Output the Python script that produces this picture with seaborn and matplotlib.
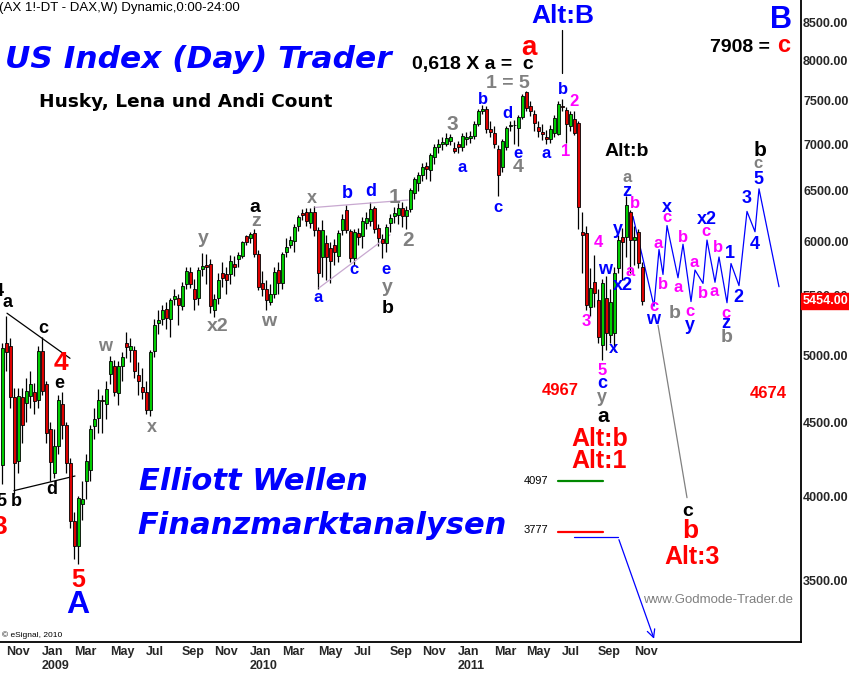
import numpy as np
import pandas as pd
import matplotlib
matplotlib.use("Agg")
import matplotlib.pyplot as plt
import matplotlib.ticker as mticker
import matplotlib.transforms as mtransforms
import seaborn as sns

# ---------------- data (weekly FDAX candles, week 0 = 2008-10-27) ----------------
week_start = "2008-10-27"
opens = [4200, 5100, 5080, 4680, 4230, 4680, 4640, 4690, 4720, 4660, 5040, 4780, 4450, 4150, 4330, 4630,
         4480, 4215, 3843, 3695, 3950, 4100, 4170, 4470, 4530, 4660, 4630, 4860, 4920, 4710, 4920, 5100,
         5050, 5050, 4850, 4760, 4720, 4590, 5040, 5270, 5300, 5390, 5300, 5470, 5480, 5410, 5600, 5710,
         5560, 5480, 5740, 5780, 5790, 5380, 5480, 5700, 5690, 5690, 5790, 5830, 5860, 6050, 6030, 6076,
         5880, 5610, 5560, 5450, 5520, 5730, 5610, 5900, 5960, 6000, 6150, 6270, 6280, 6180, 6280, 6105,
         5850, 5981, 5930, 5960, 5860, 6110, 6300, 6095, 5840, 6076, 6050, 6180, 6192, 6321, 6124, 6020,
         5981, 6180, 6240, 6250, 6320, 6240, 6310, 6473, 6577, 6661, 6760, 6713, 6853, 6963, 7005, 7007,
         7030, 6960, 7007, 6963, 7063, 7074, 7096, 7233, 7383, 7407, 7176, 7130, 6941, 6746, 6963, 7200,
         7215, 7187, 7313, 7608, 7443, 7348, 7198, 7141, 7085, 7063, 7130, 7118, 7443, 7395, 7210, 7290,
         7244, 6085, 6076, 5404, 5623, 5464, 5087, 5482, 5167, 5184, 5747, 6038, 6038, 6281, 6009, 6085,
         5756]
highs = [5100, 5330, 5140, 4750, 4750, 4750, 4830, 4880, 4790, 5080, 5150, 4800, 4500, 4450, 4700, 4720,
         4500, 4250, 3900, 4000, 4100, 4280, 4480, 4600, 4740, 4700, 4800, 5000, 4970, 4960, 5030, 5190,
         5140, 5080, 4950, 4900, 4800, 5050, 5300, 5380, 5420, 5450, 5480, 5560, 5520, 5620, 5760, 5760,
         5650, 5760, 5886, 5877, 5830, 5520, 5700, 5800, 5760, 5870, 5860, 5900, 6000, 6060, 6090, 6114,
         5920, 5720, 5640, 5600, 5760, 5800, 5900, 6030, 6050, 6170, 6250, 6310, 6320, 6320, 6341, 6140,
         6200, 6060, 5990, 6020, 6110, 6260, 6350, 6120, 6120, 6130, 6230, 6280, 6381, 6340, 6170, 6070,
         6170, 6260, 6330, 6370, 6380, 6340, 6530, 6640, 6700, 6790, 6800, 6900, 7000, 7060, 7080, 7120,
         7110, 7020, 7040, 7130, 7140, 7150, 7260, 7400, 7450, 7440, 7260, 7200, 6990, 7060, 7210, 7260,
         7270, 7330, 7580, 7620, 7500, 7390, 7260, 7230, 7160, 7220, 7330, 7501, 7520, 7420, 7380, 7383,
         7260, 6281, 6150, 5750, 5870, 5560, 5650, 5680, 5560, 5760, 6060, 6130, 6443, 6300, 6150, 6120,
         5800]
lows = [4080, 4880, 4600, 4014, 4150, 4350, 4500, 4600, 4560, 4600, 4700, 4350, 4100, 4120, 4280, 4380,
        4150, 3800, 3620, 3588, 3850, 3980, 4100, 4380, 4420, 4420, 4520, 4780, 4690, 4620, 4800, 4980,
        4950, 4830, 4700, 4670, 4560, 4540, 4990, 5180, 5250, 5220, 5150, 5420, 5250, 5380, 5560, 5570,
        5380, 5420, 5680, 5600, 5350, 5318, 5430, 5580, 5516, 5600, 5680, 5760, 5840, 5960, 5980, 5850,
        5550, 5500, 5378, 5420, 5480, 5520, 5560, 5850, 5930, 5900, 6100, 6200, 6150, 6130, 6050, 5560,
        5666, 5640, 5610, 5780, 5800, 6060, 6080, 5800, 5780, 5960, 5930, 6120, 6150, 6080, 5950, 5840,
        5900, 6090, 6180, 6170, 6140, 6114, 6280, 6420, 6500, 6600, 6620, 6600, 6780, 6900, 6940, 6980,
        6990, 6900, 6900, 6920, 6990, 7010, 7060, 7200, 7340, 7120, 7080, 6960, 6450, 6700, 6930, 7150,
        7000, 6980, 7290, 7380, 7320, 7150, 7080, 7050, 7000, 7010, 7080, 7100, 7380, 7018, 7150, 7100,
        6120, 5700, 5380, 5330, 5400, 5100, 4968, 5050, 5100, 5040, 5700, 5640, 5850, 5702, 5780, 5750,
        5420]
closes = [5060, 5030, 4680, 4215, 4690, 4480, 4730, 4780, 4650, 5040, 4730, 4420, 4220, 4330, 4660, 4480,
          4215, 3843, 3695, 3990, 3980, 4230, 4450, 4520, 4660, 4650, 4740, 4960, 4720, 4920, 4990, 5070,
          5080, 4880, 4800, 4720, 4590, 5030, 5250, 5290, 5380, 5310, 5460, 5500, 5420, 5590, 5720, 5600,
          5470, 5730, 5770, 5760, 5410, 5470, 5640, 5660, 5640, 5810, 5760, 5870, 5990, 5990, 6065, 5880,
          5580, 5560, 5464, 5520, 5710, 5610, 5877, 5943, 6009, 6140, 6230, 6250, 6190, 6280, 6105, 5702,
          6110, 5849, 5812, 5895, 6076, 6210, 6105, 5840, 6085, 6038, 6190, 6222, 6310, 6115, 6028, 5981,
          6133, 6222, 6270, 6321, 6240, 6301, 6504, 6619, 6661, 6746, 6724, 6875, 6963, 7007, 7020, 7074,
          7080, 6925, 6963, 7096, 7085, 7096, 7233, 7383, 7407, 7176, 7141, 7007, 6661, 7040, 7187, 7215,
          7222, 7313, 7561, 7419, 7383, 7244, 7152, 7118, 7063, 7176, 7302, 7466, 7431, 7233, 7348, 7130,
          6330, 6057, 5421, 5569, 5525, 5151, 5613, 5184, 5447, 5700, 6009, 5990, 6352, 6009, 6038, 5793,
          5454]
last_price = 5454

# month ticks (first weekly bar of each odd month) and their labels
tick_months = ["2008-11", "2009-01", "2009-03", "2009-05", "2009-07", "2009-09", "2009-11",
               "2010-01", "2010-03", "2010-05", "2010-07", "2010-09", "2010-11",
               "2011-01", "2011-03", "2011-05", "2011-07", "2011-09", "2011-11"]
tick_labels = ["Nov", "Jan\n2009", "Mar", "May", "Jul", "Sep", "Nov",
               "Jan\n2010", "Mar", "May", "Jul", "Sep", "Nov",
               "Jan\n2011", "Mar", "May", "Jul", "Sep", "Nov"]
price_ticks = [3500, 4000, 4500, 5000, 5500, 6000, 6500, 7000, 7500, 8000, 8500]

# projected wave path (week index, price)
proj_weeks = [157.75, 163, 164.25, 165.25, 166.25, 169, 170.25, 172.25, 173.25, 175.25,
              176.25, 178.25, 179.25, 181.25, 182.25, 184.25, 186.25, 188.25, 189.25, 194.25]
proj_prices = [6240, 5410, 5920, 5690, 6150, 5660, 5970, 5450, 5730, 5610,
               6010, 5620, 5850, 5440, 5790, 5590, 6290, 6090, 6520, 5580]
# alternative path (gray) towards c/b
alt_weeks = [164, 171.25]
alt_prices = [5250, 3990]
# blue arrow path towards the lows
arrow_weeks = [143, 154, 163.25]
arrow_prices = [3748, 3748, 3175]
# horizontal target levels
level_weeks = [139, 150.25]
level_green = 4097
level_red = 3777
# triangles
tri08_up_w, tri08_up_p = [1.25, 17], [5350, 4980]
tri08_lo_w, tri08_lo_p = [3, 18.25], [4035, 4130]
tri10_up_w, tri10_up_p = [78.25, 101.5], [6330, 6405]
tri10_lo_w, tri10_lo_p = [79.25, 97], [5570, 6060]
altB_w, altB_p = [140, 140], [8390, 7840]

# ---------------- figure ----------------
sns.set_style("white")
plt.rcParams["font.family"] = ["Liberation Sans", "DejaVu Sans"]

W, H = 849, 673
fig = plt.figure(figsize=(W / 100, H / 100), dpi=100)
fig.patch.set_facecolor("white")
ax = fig.add_axes([0, 31 / H, 801 / W, 642 / H])
ax.set_facecolor("white")
ax.set_yscale("log")

n = len(closes)
wk = np.arange(n)
o = np.array(opens, float)
c = np.array(closes, float)
hi = np.array(highs, float)
lo = np.array(lows, float)
up = c >= o
ax.vlines(wk, lo, hi, color="black", lw=0.9, zorder=2)
ax.bar(wk, np.abs(c - o), bottom=np.minimum(o, c), width=0.75,
       color=np.where(up, "#00CC00", "#DD0000"), edgecolor="black", linewidth=0.6, zorder=3)

# lines via seaborn
proj = pd.DataFrame({"week": proj_weeks, "price": proj_prices})
sns.lineplot(data=proj, x="week", y="price", sort=False, estimator=None, color="#0000FF", lw=0.9, ax=ax)
sns.lineplot(x=alt_weeks, y=alt_prices, sort=False, estimator=None, color="#808080", lw=0.9, ax=ax)
sns.lineplot(x=arrow_weeks[:2], y=arrow_prices[:2], sort=False, estimator=None, color="#0000FF", lw=0.9, ax=ax)
ax.annotate("", xy=(arrow_weeks[2], arrow_prices[2]), xytext=(arrow_weeks[1], arrow_prices[1]),
            arrowprops=dict(arrowstyle="->", color="#0000FF", lw=0.9, mutation_scale=14),
            annotation_clip=False)
sns.lineplot(x=level_weeks, y=[level_green] * 2, color="#008800", lw=1.6, ax=ax)
sns.lineplot(x=level_weeks, y=[level_red] * 2, color="#FF0000", lw=1.6, ax=ax)
for xw, yp, col in [(tri08_up_w, tri08_up_p, "black"), (tri08_lo_w, tri08_lo_p, "black"),
                    (tri10_up_w, tri10_up_p, "#C8A8D0"), (tri10_lo_w, tri10_lo_p, "#C8A8D0"),
                    (altB_w, altB_p, "black")]:
    sns.lineplot(x=xw, y=yp, sort=False, estimator=None, color=col, lw=0.9, ax=ax)

ax.set_xlim(-0.5, 199.75)
ax.set_ylim(3172, 8803)
ax.set_xlabel("")
ax.set_ylabel("")

# x ticks
dates = pd.date_range(week_start, periods=n, freq="7D")
ym = dates.strftime("%Y-%m")
tick_pos = [int(np.argmax(ym == m)) for m in tick_months]
ax.set_xticks(tick_pos)
ax.set_xticklabels(tick_labels, ha="left", fontweight="bold", fontsize=9, linespacing=1.2)
ax.tick_params(axis="x", length=0, pad=3)

# y ticks (right)
ax.yaxis.tick_right()
ax.yaxis.set_minor_locator(mticker.NullLocator())
ax.set_yticks(price_ticks)
ax.set_yticklabels([f"{v:.2f}" for v in price_ticks], fontweight="bold", fontsize=9)
ax.tick_params(axis="y", length=0, pad=1.5)

for s in ["left", "top"]:
    ax.spines[s].set_visible(False)
for s in ["right", "bottom"]:
    ax.spines[s].set_color("black")
    ax.spines[s].set_linewidth(1.3)

# current price box
trans = mtransforms.blended_transform_factory(ax.transAxes, ax.transData)
ax.text(1.002, last_price, f"{last_price:.2f}", transform=trans, ha="left", va="center",
        color="white", fontweight="bold", fontsize=9,
        bbox=dict(boxstyle="square,pad=0.15", fc="#FF0000", ec="#FF0000"), clip_on=False)

# ---------------- annotations (reference pixel positions) ----------------
def T(x, y, s, color="black", size=12, weight="bold", style="normal", family=None, ha="center"):
    kw = {}
    if family is not None:
        kw["family"] = family
    fig.text(x / W, 1 - y / H, s, color=color, fontsize=size, fontweight=weight,
             fontstyle=style, ha=ha, va="center", **kw)

BL, GR, MG, RD, BK = "#0000FF", "#808080", "#FF00FF", "#FF0000", "#000000"

T(-1, 8, "(AX 1!-DT - DAX,W) Dynamic,0:00-24:00", BK, 9.5, weight="normal", ha="left")
T(198, 60, "US Index (Day) Trader", BL, 22.5, style="italic", family="DejaVu Sans")
T(186, 102, "Husky, Lena und Andi Count", BK, 13.3, family="DejaVu Sans")
T(253, 481, "Elliott Wellen", BL, 22, style="italic", family="DejaVu Sans")
T(322, 526, "Finanzmarktanalysen", BL, 22, style="italic", family="DejaVu Sans")

T(473, 65, "0,618 X a =  c", BK, 14)
T(529, 48, "a", RD, 20)
T(508, 83, "1 = 5", GR, 14)
T(563, 16, "Alt:B", BL, 19)
T(781, 20, "B", BL, 22)
T(740, 47, "7908 =", BK, 14)
T(784, 45, "c", RD, 17)

wave_labels = [
    (-1, 291, "4", BK, 13), (8, 303, "a", BK, 13), (43, 328, "c", BK, 13), (61, 363, "4", RD, 19),
    (59, 384, "e", BK, 13), (52, 490, "d", BK, 13), (1, 501, "5", BK, 13), (16, 502, "b", BK, 13),
    (0, 527, "3", RD, 19), (78, 580, "5", RD, 18), (78, 605, "A", BL, 23),
    (105, 347, "w", GR, 13), (152, 427, "x", GR, 13),
    (203, 238, "y", GR, 14), (218, 326, "x2", GR, 14), (255, 207, "a", BK, 14), (256, 222, "z", GR, 14),
    (269, 321, "w", GR, 14),
    (312, 198, "x", GR, 13), (347, 193, "b", BL, 13), (371, 192, "d", BL, 13), (395, 197, "1", GR, 15),
    (408, 240, "2", GR, 15), (318, 297, "a", BL, 12), (354, 270, "c", BL, 12), (386, 270, "e", BL, 12),
    (387, 288, "y", GR, 14), (388, 309, "b", BK, 14),
    (452, 125, "3", GR, 15), (462, 168, "a", BL, 12), (483, 99, "b", BL, 12), (507, 113, "d", BL, 12),
    (498, 207, "c", BL, 12), (518, 153, "e", BL, 12), (518, 167, "4", GR, 14), (546, 154, "a", BL, 12),
    (563, 90, "b", BL, 12), (574, 102, "2", MG, 12), (566, 152, "1", MG, 12),
    (627, 152, "Alt:b", BK, 14), (627, 178, "a", GR, 12), (627, 192, "z", BL, 13), (635, 203, "b", MG, 12),
    (618, 229, "y", BL, 13), (598, 242, "4", MG, 12), (605, 269, "w", BL, 13), (630, 271, "a", MG, 12),
    (623, 285, "x2", BL, 13), (586, 321, "3", MG, 12), (614, 348, "x", BL, 12), (602, 370, "5", MG, 12),
    (602, 383, "c", BL, 13), (602, 397, "y", GR, 13), (603, 417, "a", BK, 15),
    (560, 390, "4967", RD, 12), (600, 439, "Alt:b", RD, 18), (599, 461, "Alt:1", RD, 18),
    (688, 512, "c", BK, 14), (690, 531, "b", RD, 19), (692, 557, "Alt:3", RD, 18), (768, 394, "4674", RD, 12),
    (654, 307, "c", MG, 12), (653, 319, "w", BL, 13), (675, 314, "b", GR, 14), (658, 243, "a", MG, 12),
    (663, 284, "b", MG, 12), (667, 207, "x", BL, 13), (667, 218, "c", MG, 12), (683, 237, "b", MG, 12),
    (678, 287, "a", MG, 12), (690, 312, "c", MG, 12), (690, 325, "y", BL, 13), (694, 263, "a", MG, 12),
    (703, 293, "b", MG, 12), (707, 220, "x2", BL, 13), (706, 232, "c", MG, 12), (718, 248, "b", MG, 12),
    (714, 292, "a", MG, 12), (726, 313, "c", MG, 12), (726, 323, "z", BL, 13), (727, 337, "b", GR, 14),
    (730, 253, "1", BL, 13), (738, 297, "2", BL, 13), (747, 198, "3", BL, 13), (755, 244, "4", BL, 13),
    (758, 180, "5", BL, 13), (758, 164, "c", GR, 12), (760, 151, "b", BK, 15),
]
for x, y, s, col, size in wave_labels:
    T(x, y, s, col, size)

T(536, 481, "4097", BK, 8, weight="normal")
T(536, 530, "3777", BK, 8, weight="normal")
T(718, 600, "www.Godmode-Trader.de", GR, 9.5, weight="normal")
T(2, 635, "\u00a9 eSignal, 2010", BK, 6, weight="normal", ha="left")

fig.savefig("out.png", dpi=100, facecolor="white")
